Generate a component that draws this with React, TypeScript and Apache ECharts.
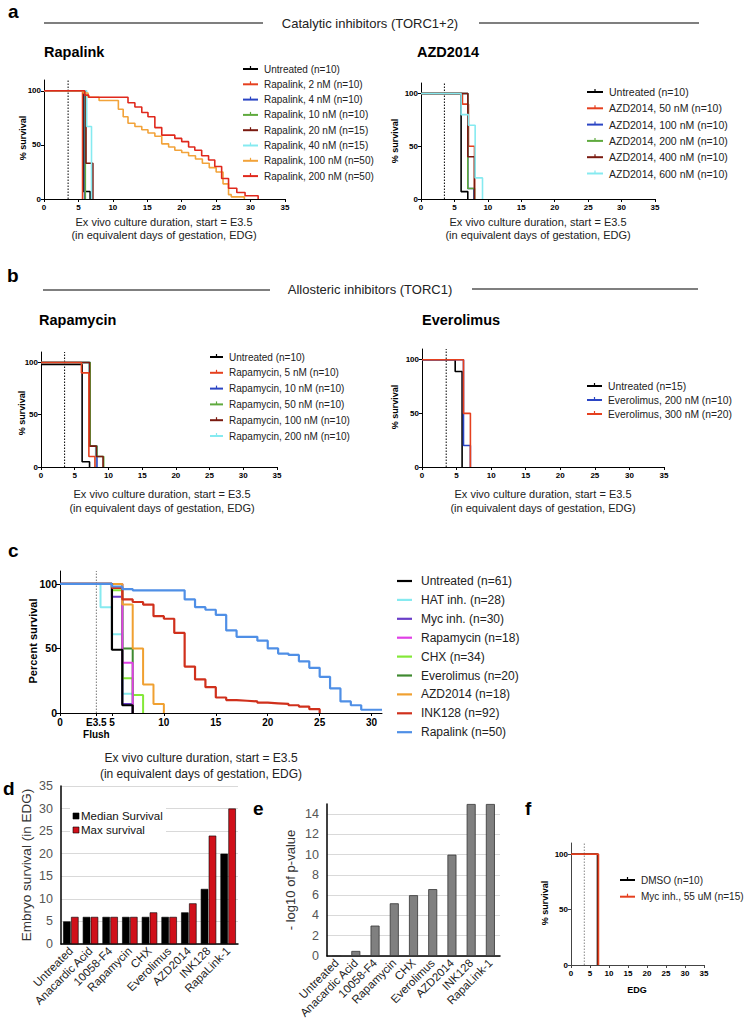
import React, { useEffect, useRef } from "react";
import * as echarts from "echarts";

type Pt = [number, number];
const FONT = "'Liberation Sans', Arial, Helvetica, sans-serif";
const FLUSH = 3.5;
const KM_X_TICKS = [0, 5, 10, 15, 20, 25, 30, 35];
const KM_Y_TICKS = [0, 50, 100];
const C_X_TICKS = [0, 3.5, 5, 10, 15, 20, 25, 30];

// ---- Panel a: Rapalink ----
const rlUntreated: Pt[] = [[0, 100], [5.7, 7], [6.7, 0]];
const rl2: Pt[] = [[0, 100], [5.6, 0]];
const rl4: Pt[] = [[0, 100], [5.9, 0]];
const rl10: Pt[] = [[0, 100], [6.0, 0]];
const rl20: Pt[] = [[0, 100], [6.1, 33], [7.1, 0]];
const rl40: Pt[] = [[0, 100], [6.2, 67], [6.9, 0]];
const rl100: Pt[] = [[0, 100], [5.7, 98], [6.4, 94], [8.0, 91], [10.8, 83], [11.5, 76], [12.2, 70], [13.2, 67], [14.2, 64], [15.1, 61], [16.1, 58], [17.1, 51], [18.1, 48], [19, 45], [20, 43], [21, 40], [22, 37], [23, 33], [24, 29], [25, 25], [26, 14], [26.8, 4], [27.2, 2], [29.1, 0]];
const rl200: Pt[] = [[0, 100], [5.9, 96], [6.5, 94], [12.2, 89], [13.2, 85], [14.2, 80], [15.1, 76], [16.1, 66], [17.1, 59], [19, 56], [20, 53], [21, 48], [21.9, 45], [22.9, 40], [23.9, 36], [24.8, 30], [25.8, 19], [26.8, 10], [28, 6], [29.2, 3], [31.1, 0]];

// ---- Panel a: AZD2014 ----
const azdUntreated: Pt[] = [[0, 100], [6.0, 7], [7.0, 0]];
const azd50: Pt[] = [[0, 100], [6.2, 90], [7.1, 50], [8.0, 0]];
const azd100: Pt[] = [[0, 100], [7.0, 10], [7.9, 0]];
const azd200: Pt[] = [[0, 100], [7.0, 10], [8.0, 0]];
const azd400: Pt[] = [[0, 100], [7.0, 40], [8.0, 0]];
const azd600: Pt[] = [[0, 100], [6.0, 80], [7.1, 70], [8.1, 20], [9.2, 0]];

// ---- Panel b: Rapamycin ----
const rapaUntreated: Pt[] = [[0, 98], [6.1, 5], [7.2, 0]];
const rapa5: Pt[] = [[0, 100], [6.0, 90], [7.1, 10], [8.0, 0]];
const rapa10: Pt[] = [[0, 100], [7.3, 20], [8.3, 0]];
const rapa50: Pt[] = [[0, 100], [7.3, 20], [8.3, 10], [9.3, 0]];
const rapa100: Pt[] = [[0, 100], [7.2, 20], [8.2, 10], [9.2, 0]];
const rapa200: Pt[] = [[0, 100], [7.1, 20], [8.1, 0]];

// ---- Panel b: Everolimus ----
const everoUntreated: Pt[] = [[0, 100], [4.8, 89], [5.8, 0]];
const evero200: Pt[] = [[0, 100], [6.0, 20], [7.0, 0]];
const evero300: Pt[] = [[0, 100], [6.0, 50], [7.0, 0]];

// ---- Panel c ----
const cUntreated: Pt[] = [[0, 100], [5, 49], [6, 6], [7, 0]];
const cHat: Pt[] = [[0, 100], [3.9, 82], [5, 61], [6, 15], [7, 0]];
const cMyc: Pt[] = [[0, 100], [5, 90], [6, 7], [7, 0]];
const cRapamycin: Pt[] = [[0, 100], [6, 39], [7, 0]];
const cChx: Pt[] = [[0, 100], [5, 95], [6, 27], [7, 14], [8, 0]];
const cEverolimus: Pt[] = [[0, 100], [6, 50], [7, 0]];
const cAzd: Pt[] = [[0, 100], [6, 84], [7, 50], [8, 22], [9, 7], [10, 0]];
const cInk: Pt[] = [[0, 100], [5, 97], [6, 88], [7, 86], [8, 84], [9, 75], [10, 73], [11, 62], [12, 36], [13, 26], [14, 20], [15, 12], [16, 10], [17, 9.5], [18, 9], [19, 8], [20, 7.5], [21, 7], [22, 6], [23, 5], [24, 3], [25, 0]];
const cRapalink: Pt[] = [[0, 100], [5, 98], [6, 96], [7, 95], [12, 88], [13, 82], [14, 80], [15, 76], [16, 64], [17, 59], [19, 56], [20, 50], [21, 46], [22, 45], [23, 40], [24, 35], [25, 28], [26, 19], [27, 9], [28, 6], [29, 2.5], [31, 2.5]];

// ---- Panels d / e ----
const categories = ["Untreated", "Anacardic Acid", "10058-F4", "Rapamycin", "CHX", "Everolimus", "AZD2014", "INK128", "RapaLink-1"];
const medianSurvival = [5, 6, 6, 6, 6, 6, 7, 12.2, 20];
const maxSurvival = [6, 6, 6, 6, 7, 6, 9, 24, 30];
const negLogP = [0, 0.5, 3.0, 5.2, 6.0, 6.6, 10.0, 15, 15];

// ---- Panel f ----
const fDmso: Pt[] = [[0, 100], [7.0, 0]];
const fMyc: Pt[] = [[0, 100], [7.2, 0]];

const C = {
  black: "#000000",
  red: "#e5401f",
  blue: "#2b45c4",
  green: "#5faa3e",
  darkred: "#7a1a10",
  cyan: "#86eaf0",
  orange: "#f2a33a",
  red200: "#e0281c",
};

const CC = {
  untreated: "#000000",
  hat: "#86eaf0",
  myc: "#6a3ec8",
  rapa: "#e040e6",
  chx: "#84e838",
  evero: "#3f8a30",
  azd: "#f0a030",
  ink: "#d0301c",
  rapalink: "#4f8fe6",
};

function txt(x: number, y: number, text: string, o: any = {}) {
  const align = o.align ?? "left";
  const va = o.va ?? "middle";
  return {
    type: "text",
    x,
    y,
    rotation: o.rot ?? 0,
    silent: true,
    style: {
      text,
      fontFamily: FONT,
      fontSize: o.size ?? 10,
      fontWeight: o.bold ? "bold" : "normal",
      fill: o.color ?? "#222",
      align,
      verticalAlign: va,
      textAlign: align,
      textVerticalAlign: va,
      lineHeight: o.lh ?? undefined,
    },
  };
}

function hline(x1: number, x2: number, y: number, color = "#555", w = 1.5) {
  return { type: "line", silent: true, shape: { x1, y1: y, x2, y2: y }, style: { stroke: color, lineWidth: w } };
}

function legend(x: number, y0: number, dy: number, items: [string, string][], o: any = {}) {
  const len = o.len ?? 15;
  const size = o.size ?? 10;
  const gap = o.gap ?? 6;
  const els: any[] = [];
  items.forEach(([name, color], i) => {
    const y = y0 + i * dy;
    els.push({ type: "line", silent: true, shape: { x1: x, y1: y, x2: x + len, y2: y }, style: { stroke: color, lineWidth: o.lw ?? 2 } });
    if (o.tick) {
      els.push({ type: "line", silent: true, shape: { x1: x + len / 2, y1: y - 3, x2: x + len / 2, y2: y }, style: { stroke: color, lineWidth: 1.2 } });
    }
    els.push(txt(x + len + gap, y, name, { size }));
  });
  return els;
}

function km(name: string, data: Pt[], color: string, idx: number, width = 1.6, z = 3) {
  return {
    type: "line",
    name,
    data,
    step: "end",
    xAxisIndex: idx,
    yAxisIndex: idx,
    symbol: "none",
    showSymbol: false,
    silent: true,
    z,
    lineStyle: { color, width },
    itemStyle: { color },
  };
}

function flushLine(idx: number, color: string) {
  return {
    type: "line",
    data: [[FLUSH, 0], [FLUSH, 110]],
    xAxisIndex: idx,
    yAxisIndex: idx,
    symbol: "none",
    showSymbol: false,
    silent: true,
    z: 1,
    lineStyle: { color, width: 1, type: [1.5, 1.5] },
  };
}

function kmX(gi: number, max = 35, size = 8, ticks = KM_X_TICKS, fmt?: any, color = "#000") {
  return {
    type: "value",
    gridIndex: gi,
    min: 0,
    max,
    axisLine: { show: true, onZero: false, lineStyle: { color, width: 1 } },
    axisTick: { show: true, length: 3, customValues: ticks, lineStyle: { color, width: 1 } },
    axisLabel: {
      customValues: ticks,
      fontSize: size,
      fontWeight: "bold",
      color: "#000",
      margin: 3,
      fontFamily: FONT,
      lineHeight: size + 2,
      formatter: fmt,
    },
    splitLine: { show: false },
  };
}

function kmY(gi: number, size = 8, color = "#000") {
  return {
    type: "value",
    gridIndex: gi,
    min: 0,
    max: 110,
    axisLine: { show: true, onZero: false, lineStyle: { color, width: 1 } },
    axisTick: { show: true, length: 3, customValues: KM_Y_TICKS, lineStyle: { color, width: 1 } },
    axisLabel: { customValues: KM_Y_TICKS, fontSize: size, fontWeight: "bold", color: "#000", margin: 3, fontFamily: FONT },
    splitLine: { show: false },
  };
}

function buildOption() {
  const grid = (left: number, top: number, width: number, height: number) => ({
    left, top, width, height, containLabel: false, outerBoundsMode: "none",
  });

  const grids = [
    grid(44, 80, 241, 119), // 0 Rapalink
    grid(421, 83, 234, 116), // 1 AZD2014
    grid(41, 352, 236, 115), // 2 Rapamycin
    grid(422, 349, 242, 118), // 3 Everolimus
    grid(60, 571, 322, 142), // 4 c
    grid(61, 786, 177, 158), // 5 d
    grid(327, 804, 173, 152), // 6 e
    grid(571, 843, 133, 122), // 7 f
  ];

  const cFmt = (v: number) => (v === 3.5 ? "E3.5\nFlush" : String(v));

  const xAxis: any[] = [
    kmX(0), kmX(1), kmX(2), kmX(3),
    kmX(4, 31, 10, C_X_TICKS, cFmt),
    {
      type: "category", gridIndex: 5, data: categories,
      axisLine: { show: true, lineStyle: { color: "#000", width: 1.5 } },
      axisTick: { show: false },
      axisLabel: { interval: 0, rotate: 45, fontSize: 11.5, color: "#222", margin: 5, fontFamily: FONT },
    },
    {
      type: "category", gridIndex: 6, data: categories,
      axisLine: { show: true, lineStyle: { color: "#000", width: 1.5 } },
      axisTick: { show: false },
      axisLabel: { interval: 0, rotate: 45, fontSize: 11.5, color: "#222", margin: 5, fontFamily: FONT },
    },
    kmX(7, 35, 8, KM_X_TICKS, undefined, "#444"),
  ];

  const yAxis: any[] = [
    kmY(0), kmY(1), kmY(2), kmY(3),
    { ...kmY(4, 10.5), axisTick: { show: true, length: 4, customValues: KM_Y_TICKS, lineStyle: { color: "#000" } } },
    {
      type: "value", gridIndex: 5, min: 0, max: 35, interval: 5,
      axisLine: { show: true, lineStyle: { color: "#000", width: 1.5 } },
      axisTick: { show: false },
      axisLabel: { fontSize: 12.5, color: "#555", margin: 8, fontFamily: FONT },
      splitLine: { show: true, lineStyle: { color: "#d9d9d9", width: 1 } },
    },
    {
      type: "value", gridIndex: 6, min: 0, max: 15, interval: 2,
      axisLine: { show: true, lineStyle: { color: "#000", width: 1.5 } },
      axisTick: { show: false },
      axisLabel: { fontSize: 12.5, color: "#555", margin: 8, fontFamily: FONT, showMaxLabel: false },
      splitLine: { show: true, showMaxLine: false, lineStyle: { color: "#d9d9d9", width: 1 } },
    },
    kmY(7, 8, "#444"),
  ];

  const series: any[] = [
    flushLine(0, "#000"),
    km("Untreated (n=10)", rlUntreated, C.black, 0),
    km("Rapalink, 2 nM (n=10)", rl2, C.red, 0),
    km("Rapalink, 4 nM (n=10)", rl4, C.blue, 0),
    km("Rapalink, 10 nM (n=10)", rl10, C.green, 0),
    km("Rapalink, 20 nM (n=15)", rl20, C.darkred, 0),
    km("Rapalink, 40 nM (n=15)", rl40, C.cyan, 0),
    km("Rapalink, 100 nM (n=50)", rl100, C.orange, 0),
    km("Rapalink, 200 nM (n=50)", rl200, C.red200, 0),

    flushLine(1, "#000"),
    km("Untreated (n=10)", azdUntreated, C.black, 1),
    km("AZD2014, 50 nM (n=10)", azd50, C.red, 1),
    km("AZD2014, 100 nM (n=10)", azd100, C.blue, 1),
    km("AZD2014, 200 nM (n=10)", azd200, C.green, 1),
    km("AZD2014, 400 nM (n=10)", azd400, C.darkred, 1),
    km("AZD2014, 600 nM (n=10)", azd600, C.cyan, 1),

    flushLine(2, "#000"),
    km("Untreated (n=10)", rapaUntreated, C.black, 2),
    km("Rapamycin, 200 nM (n=10)", rapa200, C.cyan, 2),
    km("Rapamycin, 10 nM (n=10)", rapa10, C.blue, 2),
    km("Rapamycin, 50 nM (n=10)", rapa50, C.green, 2),
    km("Rapamycin, 100 nM (n=10)", rapa100, C.darkred, 2),
    km("Rapamycin, 5 nM (n=10)", rapa5, C.red, 2),

    flushLine(3, "#000"),
    km("Untreated (n=15)", everoUntreated, C.black, 3),
    km("Everolimus, 200 nM (n=10)", evero200, C.blue, 3),
    km("Everolimus, 300 nM (n=20)", evero300, C.red, 3),

    flushLine(4, "#777"),
    km("HAT inh. (n=28)", cHat, CC.hat, 4, 2),
    km("Myc inh. (n=30)", cMyc, CC.myc, 4, 2),
    km("CHX (n=34)", cChx, CC.chx, 4, 2),
    km("Everolimus (n=20)", cEverolimus, CC.evero, 4, 2),
    km("Rapamycin (n=18)", cRapamycin, CC.rapa, 4, 2),
    km("AZD2014 (n=18)", cAzd, CC.azd, 4, 2),
    km("Untreated (n=61)", cUntreated, CC.untreated, 4, 2.2),
    km("INK128 (n=92)", cInk, CC.ink, 4, 2.2),
    km("Rapalink (n=50)", cRapalink, CC.rapalink, 4, 2.2),

    {
      type: "bar", name: "Median Survival", data: medianSurvival, xAxisIndex: 5, yAxisIndex: 5,
      barWidth: 7.5, barGap: "6%", silent: true,
      itemStyle: { color: "#000", borderColor: "#000", borderWidth: 0.6 },
    },
    {
      type: "bar", name: "Max survival", data: maxSurvival, xAxisIndex: 5, yAxisIndex: 5,
      barWidth: 7.5, barGap: "6%", silent: true,
      itemStyle: { color: "#d0101a", borderColor: "#000", borderWidth: 0.6 },
    },
    {
      type: "bar", name: "- log10 of p-value", data: negLogP, xAxisIndex: 6, yAxisIndex: 6,
      barWidth: 9, silent: true,
      itemStyle: { color: "#808080", borderColor: "#333", borderWidth: 0.8 },
    },

    flushLine(7, "#888"),
    km("DMSO (n=10)", fDmso, C.black, 7, 1.8),
    km("Myc inh., 55 uM (n=15)", fMyc, C.red, 7, 1.8),
  ];

  const xTitle = "Ex vivo culture duration, start = E3.5\n(in equivalent days of gestation, EDG)";

  const graphic: any[] = [
    // panel a
    txt(8, 11, "a", { size: 19, bold: true, color: "#000" }),
    hline(44, 263, 23),
    hline(479, 699, 23),
    txt(370, 23, "Catalytic inhibitors (TORC1+2)", { size: 13, align: "center" }),
    txt(44, 52, "Rapalink", { size: 14.5, bold: true, color: "#000" }),
    txt(417, 52, "AZD2014", { size: 14.5, bold: true, color: "#000" }),
    txt(23, 138, "% survival", { size: 9, bold: true, color: "#000", align: "center", rot: Math.PI / 2 }),
    txt(395, 141, "% survival", { size: 9, bold: true, color: "#000", align: "center", rot: Math.PI / 2 }),
    txt(164, 228.5, xTitle, { size: 11, align: "center", lh: 13.5 }),
    txt(538, 228.5, xTitle, { size: 11, align: "center", lh: 13.5 }),
    ...legend(243, 69, 15.3, [
      ["Untreated (n=10)", C.black],
      ["Rapalink, 2 nM (n=10)", C.red],
      ["Rapalink, 4 nM (n=10)", C.blue],
      ["Rapalink, 10 nM (n=10)", C.green],
      ["Rapalink, 20 nM (n=15)", C.darkred],
      ["Rapalink, 40 nM (n=15)", C.cyan],
      ["Rapalink, 100 nM (n=50)", C.orange],
      ["Rapalink, 200 nM (n=50)", C.red200],
    ], { tick: true, size: 10 }),
    ...legend(587, 92, 16.3, [
      ["Untreated (n=10)", C.black],
      ["AZD2014, 50 nM (n=10)", C.red],
      ["AZD2014, 100 nM (n=10)", C.blue],
      ["AZD2014, 200 nM (n=10)", C.green],
      ["AZD2014, 400 nM (n=10)", C.darkred],
      ["AZD2014, 600 nM (n=10)", C.cyan],
    ], { tick: true, size: 10.5, len: 16 }),

    // panel b
    txt(7, 275, "b", { size: 19, bold: true, color: "#000" }),
    hline(43, 270, 290),
    hline(472, 698, 289),
    txt(370, 289, "Allosteric inhibitors (TORC1)", { size: 13, align: "center" }),
    txt(39, 320, "Rapamycin", { size: 14.5, bold: true, color: "#000" }),
    txt(422, 320, "Everolimus", { size: 14.5, bold: true, color: "#000" }),
    txt(22, 413, "% survival", { size: 9, bold: true, color: "#000", align: "center", rot: Math.PI / 2 }),
    txt(395, 407, "% survival", { size: 9, bold: true, color: "#000", align: "center", rot: Math.PI / 2 }),
    txt(162, 501, xTitle, { size: 11, align: "center", lh: 13.5 }),
    txt(543, 501, xTitle, { size: 11, align: "center", lh: 13.5 }),
    ...legend(210, 357, 15.8, [
      ["Untreated (n=10)", C.black],
      ["Rapamycin, 5 nM (n=10)", C.red],
      ["Rapamycin, 10 nM (n=10)", C.blue],
      ["Rapamycin, 50 nM (n=10)", C.green],
      ["Rapamycin, 100 nM (n=10)", C.darkred],
      ["Rapamycin, 200 nM (n=10)", C.cyan],
    ], { tick: true, size: 10, len: 13 }),
    ...legend(587, 386, 14, [
      ["Untreated (n=15)", C.black],
      ["Everolimus, 200 nM (n=10)", C.blue],
      ["Everolimus, 300 nM (n=20)", C.red],
    ], { tick: true, size: 10.3, len: 15 }),

    // panel c
    txt(8, 550, "c", { size: 19, bold: true, color: "#000" }),
    txt(33, 641, "Percent survival", { size: 11, bold: true, color: "#000", align: "center", rot: Math.PI / 2 }),
    txt(201, 766, xTitle, { size: 12, align: "center", lh: 15.5 }),
    ...legend(397, 581, 18.9, [
      ["Untreated (n=61)", CC.untreated],
      ["HAT inh. (n=28)", CC.hat],
      ["Myc inh. (n=30)", CC.myc],
      ["Rapamycin (n=18)", CC.rapa],
      ["CHX (n=34)", CC.chx],
      ["Everolimus (n=20)", CC.evero],
      ["AZD2014 (n=18)", CC.azd],
      ["INK128 (n=92)", CC.ink],
      ["Rapalink (n=50)", CC.rapalink],
    ], { size: 12, len: 15, gap: 9, lw: 2.2 }),

    // panel d
    txt(3, 788, "d", { size: 19, bold: true, color: "#000" }),
    txt(26, 865, "Embryo survival (in EDG)", { size: 13.5, color: "#333", align: "center", rot: Math.PI / 2 }),
    { type: "rect", silent: true, shape: { x: 70, y: 808, width: 96, height: 30 }, style: { fill: "#ffffff" } },
    { type: "rect", silent: true, shape: { x: 73, y: 813, width: 6, height: 6 }, style: { fill: "#000", stroke: "#000", lineWidth: 0.6 } },
    { type: "rect", silent: true, shape: { x: 73, y: 827, width: 6, height: 6 }, style: { fill: "#d0101a", stroke: "#000", lineWidth: 0.6 } },
    txt(81, 816, "Median Survival", { size: 11.5, color: "#111" }),
    txt(81, 830, "Max survival", { size: 11.5, color: "#111" }),

    // panel e
    txt(253, 808, "e", { size: 19, bold: true, color: "#000" }),
    txt(290, 880, "- log10 of p-value", { size: 13, color: "#333", align: "center", rot: Math.PI / 2 }),

    // panel f
    txt(525, 808, "f", { size: 19, bold: true, color: "#000" }),
    txt(545, 903, "% survival", { size: 9, bold: true, color: "#000", align: "center", rot: Math.PI / 2 }),
    txt(637, 990, "EDG", { size: 9, bold: true, color: "#000", align: "center" }),
    ...legend(620, 880, 16.7, [
      ["DMSO (n=10)", C.black],
      ["Myc inh., 55 uM (n=15)", C.red],
    ], { tick: true, size: 10, len: 15 }),
  ];

  return {
    animation: false,
    backgroundColor: "#ffffff",
    textStyle: { fontFamily: FONT },
    grid: grids,
    xAxis,
    yAxis,
    series,
    graphic: { elements: graphic.map((e) => ({ ...e, z: 100 })) },
  };
}

export default function App() {
  const ref = useRef<HTMLDivElement>(null);
  useEffect(() => {
    const chart = echarts.init(ref.current!, null, { renderer: "svg" });
    chart.setOption(buildOption() as any);
    return () => chart.dispose();
  }, []);
  return (
    <div
      ref={ref}
      style={{ position: "absolute", left: 0, top: 0, width: 744, height: 1026, background: "#fff" }}
    />
  );
}
